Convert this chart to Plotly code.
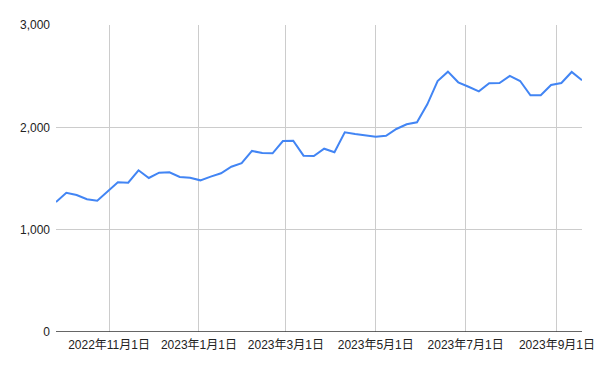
import pandas as pd
import plotly.graph_objects as go

dates = pd.date_range("2022-09-26", periods=52, freq="7D")
values = [1270, 1361, 1339, 1297, 1283, 1371, 1463, 1459, 1580, 1505,
          1557, 1561, 1515, 1508, 1482, 1518, 1551, 1615, 1649, 1769,
          1749, 1746, 1866, 1869, 1723, 1720, 1791, 1756, 1951, 1935,
          1918, 1908, 1918, 1984, 2030, 2049, 2225, 2453, 2544, 2440,
          2397, 2352, 2430, 2433, 2502, 2453, 2313, 2313, 2414, 2433,
          2541, 2460]

x_tickvals = ["2022-11-01", "2023-01-01", "2023-03-01", "2023-05-01", "2023-07-01", "2023-09-01"]
x_ticktext = ["2022年11月1日", "2023年1月1日", "2023年3月1日", "2023年5月1日", "2023年7月1日", "2023年9月1日"]
y_tickvals = [0, 1000, 2000, 3000]
y_ticktext = ["0", "1,000", "2,000", "3,000"]

fig = go.Figure()
fig.add_trace(go.Scatter(x=dates, y=values, mode="lines",
                         line=dict(color="#4285F4", width=2), hoverinfo="skip"))

fig.update_layout(
    width=600, height=371,
    margin=dict(l=56, r=18, t=25, b=39, autoexpand=False),
    paper_bgcolor="white", plot_bgcolor="white",
    showlegend=False,
    font=dict(family="Arial, Liberation Sans, Noto Sans CJK JP", size=12, color="#222222"),
)
fig.update_xaxes(
    range=[dates[0], dates[-1]],
    tickvals=x_tickvals, ticktext=x_ticktext,
    showgrid=True, gridcolor="#cccccc", gridwidth=1,
    showline=False, zeroline=False, ticks="",
    ticklabelstandoff=4, automargin=False,
)
fig.update_yaxes(
    range=[0, 3000],
    tickvals=y_tickvals, ticktext=y_ticktext,
    showgrid=True, gridcolor="#cccccc", gridwidth=1,
    zeroline=False, showline=False, ticks="",
    ticklabelstandoff=5, automargin=False,
)
fig.add_shape(type="line", xref="paper", yref="y", x0=0, x1=1, y0=0, y1=0,
              line=dict(color="#333333", width=1.5))

fig.write_html("out.html")
